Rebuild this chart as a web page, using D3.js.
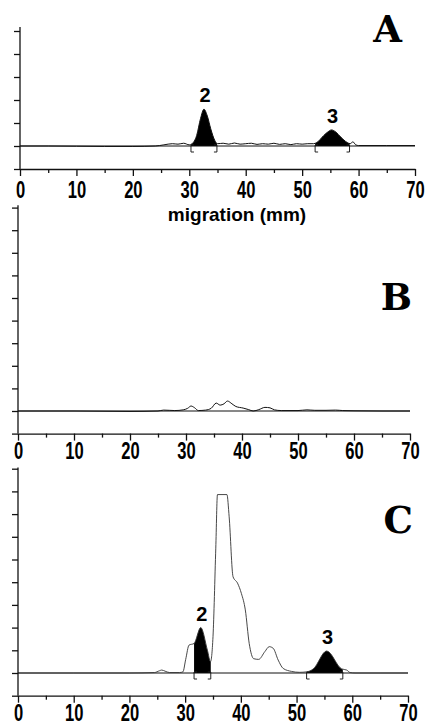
<!DOCTYPE html>
<html>
<head>
<meta charset="utf-8">
<script src="https://cdn.jsdelivr.net/npm/d3@7"></script>
<style>
  body { margin: 0; background: #fff; }
</style>
</head>
<body>
<svg id="chart" width="427" height="725"></svg>
<script>
// ---- data (migration in mm, signal in arbitrary units) ----
const xTicks = [0, 5, 10, 15, 20, 25, 30, 35, 40, 45, 50, 55, 60, 65, 70];

// panel A
const aMm  = [0, 5, 10, 15, 20, 24, 25.5, 27, 28, 29, 30, 30.5, 31.3, 32, 32.6, 33.2, 33.8, 34.5, 35, 36, 37, 38, 39, 40, 41, 42, 43, 44, 45, 46, 47, 48, 49, 50, 51, 52, 52.6, 53.8, 54.6, 55.2, 56, 56.8, 58, 58.5, 59, 59.5, 60, 65, 70];
const aVal = [0, 0, -0.01, -0.02, -0.02, 0, 0.05, 0.1, 0.08, 0.12, 0.05, 0.1, 0.45, 1.2, 1.6, 1.3, 0.75, 0.25, 0.1, 0.12, 0.08, 0.13, 0.08, 0.1, 0.12, 0.07, 0.1, 0.08, 0.12, 0.07, 0.1, 0.06, 0.1, 0.08, 0.1, 0.1, 0.15, 0.45, 0.62, 0.7, 0.6, 0.4, 0.15, 0.1, 0.18, 0.05, 0.02, 0.02, 0.02];
const aPeaks  = ["2", "3"];
const aRanges = [[30.3, 34.9], [52.3, 58.4]];

// panel B
const bMm  = [0, 10, 20, 25, 26, 28, 29.5, 30.3, 30.9, 31.5, 32.2, 33.5, 34.5, 35.4, 36.1, 36.8, 37.4, 38.2, 38.9, 40.2, 41.2, 42, 43, 44.1, 45, 45.8, 47, 50, 51.6, 53, 55, 56.7, 58, 60, 65, 70];
const bVal = [0, 0, -0.02, 0, 0.04, 0.02, 0.05, 0.12, 0.22, 0.15, 0.02, 0.04, 0.12, 0.35, 0.26, 0.32, 0.44, 0.32, 0.2, 0.13, 0.06, 0.0, 0.06, 0.16, 0.14, 0.05, 0.02, 0.02, 0.05, 0.03, 0.03, 0.04, 0.02, 0.01, 0, 0];
const bPeaks  = [];
const bRanges = [];

// panel C
const cMm  = [0, 10, 20, 24.5, 25.4, 25.8, 26.4, 27.2, 29.0, 29.6, 30.1, 30.7, 31.6, 32.8, 34.0, 34.55, 35.0, 35.5, 35.8, 37.5, 37.9, 38.6, 39.4, 40.1, 40.8, 41.5, 42.3, 43.2, 44.3, 45.1, 45.8, 46.7, 47.6, 49.1, 50.5, 51.8, 53.0, 55.4, 58.1, 59.0, 59.6, 60.5, 65, 70];
const cVal = [0, 0, 0, 0.02, 0.1, 0.13, 0.08, 0.02, 0.02, 0.05, 0.6, 1.23, 1.3, 2.0, 1.0, 0.5, 1.6, 5.5, 7.86, 7.86, 6.88, 4.24, 3.96, 3.5, 2.78, 1.3, 0.63, 0.6, 0.94, 1.16, 1.09, 0.57, 0.2, 0.07, 0.03, 0.05, 0.18, 0.97, 0.18, 0.13, 0.02, 0, 0, 0];
const cPeaks  = ["2", "3"];
const cRanges = [[31.6, 34.6], [51.8, 58.3]];

// ---- layout ----
const svg = d3.select("#chart");
svg.append("rect").attr("width", 427).attr("height", 725).attr("fill", "#fff");

const panels = [
  { mm: aMm, val: aVal, peaks: aPeaks, ranges: aRanges, letter: "A",
    xl: 20, xr: 415, zero: 146, unit: 23, yTop: 5.17, yMax: 5, lab: 29,
    letterX: 402, letterY: 42, title: true },
  { mm: bMm, val: bVal, peaks: bPeaks, ranges: bRanges, letter: "B",
    xl: 18, xr: 410, zero: 411, unit: 22.6, yTop: 9.1, yMax: 9, lab: 25,
    letterX: 412, letterY: 310 },
  { mm: cMm, val: cVal, peaks: cPeaks, ranges: cRanges, letter: "C",
    xl: 18, xr: 408, zero: 673, unit: 22.7, yTop: 9.05, yMax: 9, lab: 25,
    letterX: 413, letterY: 533, thin: true }
];

panels.forEach((p, i) => drawPanel(p, i));

function drawPanel(p, i) {
  const x = d3.scaleLinear().domain([0, 70]).range([p.xl, p.xr]);
  const y = d3.scaleLinear().domain([0, 1]).range([p.zero, p.zero - p.unit]);
  const g = svg.append("g").attr("class", "panel");
  const pts = p.mm.map((m, k) => [m, p.val[k]]);

  // filled peaks (clipped to bracket limits)
  const area = d3.area()
    .x(d => x(d[0]))
    .y0(y(0))
    .y1(d => y(Math.max(d[1], 0)))
    .curve(d3.curveMonotoneX);

  p.ranges.forEach((r, k) => {
    const id = `clip${i}_${k}`;
    g.append("clipPath").attr("id", id)
      .append("rect")
      .attr("x", x(r[0])).attr("width", x(r[1]) - x(r[0]))
      .attr("y", y(p.yTop)).attr("height", y(0) - y(p.yTop));
    g.append("path")
      .datum(pts)
      .attr("clip-path", `url(#${id})`)
      .attr("d", area)
      .attr("fill", "#000");

    // bracket below the peak
    const x1 = x(r[0]), x2 = x(r[1]), y0 = y(0) - 1, y1 = y(0) + 6;
    g.append("path")
      .attr("d", `M${x1 + 3},${y0}H${x1}V${y1}H${x1 + 3}M${x2 - 3},${y0}H${x2}V${y1}H${x2 - 3}`)
      .attr("fill", "none")
      .attr("stroke", "#222")
      .attr("stroke-width", 1);

    // peak number above its maximum
    const inside = pts.filter(d => d[0] >= r[0] && d[0] <= r[1]);
    const top = d3.greatest(inside, d => d[1]);
    g.append("text")
      .attr("x", x(top[0]) + 1)
      .attr("y", y(top[1]) - 7)
      .attr("text-anchor", "middle")
      .attr("font-family", "Liberation Sans, Arial, sans-serif")
      .attr("font-weight", "bold")
      .attr("font-size", 20)
      .text(p.peaks[k]);
  });

  // zero line
  g.append("line")
    .attr("x1", x(0)).attr("x2", x(70))
    .attr("y1", y(0)).attr("y2", y(0))
    .attr("stroke", "#111").attr("stroke-width", 1);

  // trace
  const line = d3.line()
    .x(d => x(d[0]))
    .y(d => y(d[1]))
    .curve(d3.curveMonotoneX);
  g.append("path")
    .datum(pts)
    .attr("d", line)
    .attr("fill", "none")
    .attr("stroke", p.thin ? "#333" : "#111")
    .attr("stroke-width", p.thin ? 0.9 : 1);

  // y axis (no labels)
  const yAxis = g.append("g")
    .attr("transform", `translate(${x(0)},0)`)
    .call(d3.axisLeft(y).tickValues(d3.range(-1, p.yMax + 1)).tickSize(6).tickFormat("").tickSizeOuter(0));
  yAxis.select(".domain").attr("d", `M0,${y(p.yTop)}V${y(-1)}`);

  // x axis
  const xAxis = g.append("g")
    .attr("transform", `translate(0,${y(-1)})`)
    .call(d3.axisBottom(x).tickValues(xTicks).tickSizeOuter(0));
  xAxis.selectAll(".tick line").attr("y2", d => d % 10 === 0 ? 7 : 4);
  xAxis.selectAll(".tick text")
    .attr("y", p.lab).attr("dy", null)
    .attr("transform", "scale(0.72,1)")
    .attr("font-family", "Liberation Sans, Arial, sans-serif")
    .attr("font-weight", "bold")
    .attr("font-size", 23)
    .attr("fill", "#000")
    .text(d => d % 10 === 0 ? d : "");

  [yAxis, xAxis].forEach(ax => {
    ax.selectAll(".domain, .tick line").attr("stroke", "#111").attr("stroke-width", 1.3);
  });

  // panel letter
  g.append("text")
    .attr("x", p.letterX).attr("y", p.letterY)
    .attr("text-anchor", "end")
    .attr("font-family", "DejaVu Serif, serif")
    .attr("font-weight", "bold")
    .attr("font-size", 37)
    .text(p.letter);

  if (p.title) {
    g.append("text")
      .attr("x", 237).attr("y", y(-1) + 52)
      .attr("text-anchor", "middle")
      .attr("font-family", "Liberation Sans, Arial, sans-serif")
      .attr("font-weight", "bold")
      .attr("font-size", 19)
      .text("migration (mm)");
  }
}
</script>
</body>
</html>
